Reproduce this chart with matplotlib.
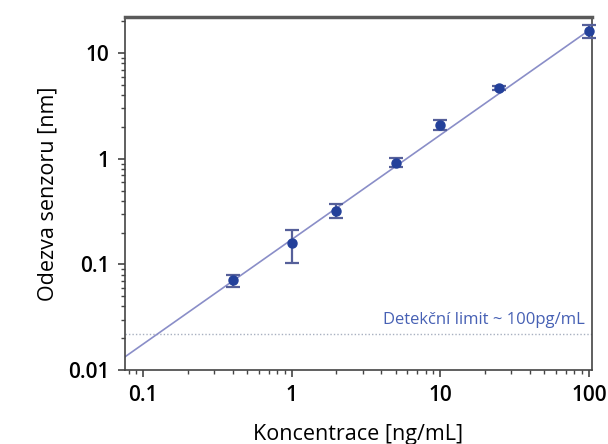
import matplotlib.pyplot as plt
import numpy as np

# koncentrace [ng/mL] a odezva senzoru [nm]
konc = [0.4, 1, 2, 5, 10, 25, 100]
odezva = [0.071, 0.16, 0.32, 0.92, 2.1, 4.7, 16.3]
err_dolu = [0.010, 0.056, 0.045, 0.09, 0.22, 0.2, 2.3]
err_nahoru = [0.009, 0.050, 0.055, 0.10, 0.25, 0.2, 2.2]

# parametry fitu y = a * x^b
fit_a = 0.172
fit_b = 0.99
lod = 0.022

plt.rcParams['font.family'] = ['Open Sans', 'DejaVu Sans']

fig = plt.figure(figsize=(6.08, 4.44), dpi=100)
ax = fig.add_axes([0.2056, 0.1667, 0.7681, 0.795])

xx = np.logspace(np.log10(0.0755), np.log10(105), 100)
ax.plot(xx, fit_a * xx ** fit_b, color='#8a8ec8', lw=1.2, zorder=2)
ax.axhline(lod, color='#a8b0c0', lw=1, ls=(0, (1, 1.5)), zorder=1)

ax.errorbar(konc, odezva, yerr=[err_dolu, err_nahoru], fmt='o', ms=6.5,
            color='#23409a', ecolor='#56609a', elinewidth=1.6, capsize=5,
            capthick=1.6, zorder=3, clip_on=False)

ax.text(0.985, 0.118, 'Detekční limit ~ 100pg/mL', transform=ax.transAxes,
        ha='right', va='bottom', color='#4660b4', fontsize=12)

ax.set_xscale('log')
ax.set_yscale('log')
ax.set_xlim(0.0755, 105)
ax.set_ylim(0.01, 22)
ax.set_xticks([0.1, 1, 10, 100])
ax.set_xticklabels(['0.1', '1', '10', '100'])
ax.set_yticks([0.01, 0.1, 1, 10])
ax.set_yticklabels(['0.01', '0.1', '1', '10'])

ax.tick_params(which='major', direction='out', length=5, width=1.2,
               labelsize=15, color='#444444', pad=6)
ax.tick_params(which='minor', direction='out', length=3, width=1,
               color='#444444')
for lab in ax.get_xticklabels() + ax.get_yticklabels():
    lab.set_fontweight('semibold')

for side in ['left', 'bottom', 'right']:
    ax.spines[side].set_color('#444444')
    ax.spines[side].set_linewidth(1.2)
ax.spines['top'].set_color('#5a5a5a')
ax.spines['top'].set_linewidth(2.5)

ax.set_xlabel('Koncentrace [ng/mL]', fontsize=15.5, labelpad=13)
ax.set_ylabel('Odezva senzoru [nm]', fontsize=15.5, labelpad=7)

fig.savefig('out.png', dpi=100)
